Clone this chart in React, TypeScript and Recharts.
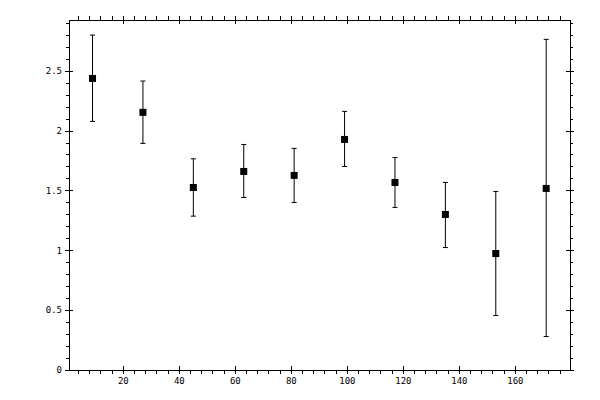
import React from "react";
import { ScatterChart, Scatter, XAxis, YAxis, ErrorBar } from "recharts";

const xCenters = [9, 27, 45, 63, 81, 99, 117, 135, 153, 171];
const values = [2.441, 2.157, 1.528, 1.662, 1.629, 1.93, 1.57, 1.302, 0.975, 1.52];
const lows = [2.081, 1.897, 1.288, 1.444, 1.402, 1.704, 1.361, 1.025, 0.456, 0.28];
const highs = [2.804, 2.419, 1.768, 1.888, 1.855, 2.165, 1.779, 1.57, 1.495, 2.768];

const xMajorTicks = [20, 40, 60, 80, 100, 120, 140, 160];
const yMajorTicks = [0, 0.5, 1, 1.5, 2, 2.5];

const xDomain = [0.6, 179.5];
const yDomain = [0, 2.93];

const xTicks: number[] = [];
for (let i = 4; i <= 176; i += 4) xTicks.push(i);
const yTicks: number[] = [];
for (let i = 0; i <= 29; i++) yTicks.push(i / 10);

const data = xCenters.map((x, i) => ({
  x,
  y: values[i],
  err: [values[i] - lows[i], highs[i] - values[i]],
}));

const FONT = "'DejaVu Sans Mono', monospace";
const isMajorX = (v: number) => xMajorTicks.includes(v);
const isMajorY = (v: number) => yMajorTicks.some((t) => Math.abs(t - v) < 1e-6);

const BottomTick = (p: any) => {
  const { x, y, payload } = p;
  const v = payload.value;
  const major = isMajorX(v);
  return (
    <g>
      <line x1={x} x2={x} y1={major ? y - 4 : y} y2={y + 4} stroke="#000" shapeRendering="crispEdges" />
      {major && (
        <text x={x} y={y + 14} textAnchor="middle" fontFamily={FONT} fontSize={9} fill="#000">
          {v}
        </text>
      )}
    </g>
  );
};

const TopTick = (p: any) => {
  const { x, y, payload } = p;
  const major = isMajorX(payload.value);
  return (
    <g>
      <line x1={x} x2={x} y1={y - 4} y2={major ? y + 4 : y} stroke="#000" shapeRendering="crispEdges" />
    </g>
  );
};

const LeftTick = (p: any) => {
  const { x, y, payload } = p;
  const v = payload.value;
  const major = isMajorY(v);
  return (
    <g>
      <line x1={major ? x - 4 : x - 3} x2={major ? x + 4 : x} y1={y} y2={y} stroke="#000" shapeRendering="crispEdges" />
      {major && (
        <text x={x - 7} y={y + 3} textAnchor="end" fontFamily={FONT} fontSize={9} fill="#000">
          {String(v)}
        </text>
      )}
    </g>
  );
};

const RightTick = (p: any) => {
  const { x, y, payload } = p;
  const major = isMajorY(payload.value);
  return (
    <g>
      <line x1={major ? x - 4 : x} x2={major ? x + 4 : x + 3} y1={y} y2={y} stroke="#000" shapeRendering="crispEdges" />
    </g>
  );
};

const Square = (p: any) => {
  const { cx, cy } = p;
  if (cx == null || cy == null) return <g />;
  return <rect x={cx - 3.5} y={cy - 3.5} width={7} height={7} fill="#000" />;
};

const Empty = () => <g />;

export default function App() {
  return (
    <div style={{ position: "absolute", left: 0, top: 0, width: 600, height: 400, background: "#fff" }}>
      <ScatterChart width={600} height={400} margin={{ top: 0, right: 0, bottom: 0, left: 0 }}>
        <XAxis
          xAxisId="bottom"
          type="number"
          dataKey="x"
          orientation="bottom"
          height={30}
          domain={xDomain}
          allowDataOverflow
          ticks={xTicks}
          interval={0}
          tickSize={0}
          tickMargin={0}
          tickLine={false}
          tick={BottomTick}
          axisLine={{ stroke: "#000", shapeRendering: "crispEdges" }}
        />
        <XAxis
          xAxisId="top"
          type="number"
          dataKey="x"
          orientation="top"
          height={20}
          domain={xDomain}
          allowDataOverflow
          ticks={xTicks}
          interval={0}
          tickSize={0}
          tickMargin={0}
          tickLine={false}
          tick={TopTick}
          axisLine={{ stroke: "#000", shapeRendering: "crispEdges" }}
        />
        <YAxis
          yAxisId="left"
          type="number"
          dataKey="y"
          orientation="left"
          width={69}
          domain={yDomain}
          allowDataOverflow
          ticks={yTicks}
          interval={0}
          tickSize={0}
          tickMargin={0}
          tickLine={false}
          tick={LeftTick}
          axisLine={{ stroke: "#000", shapeRendering: "crispEdges" }}
        />
        <YAxis
          yAxisId="right"
          type="number"
          dataKey="y"
          orientation="right"
          width={30}
          domain={yDomain}
          allowDataOverflow
          ticks={yTicks}
          interval={0}
          tickSize={0}
          tickMargin={0}
          tickLine={false}
          tick={RightTick}
          axisLine={{ stroke: "#000", shapeRendering: "crispEdges" }}
        />
        <Scatter
          data={data}
          xAxisId="top"
          yAxisId="right"
          dataKey="y"
          shape={Empty}
          isAnimationActive={false}
          legendType="none"
        />
        <Scatter
          data={data}
          xAxisId="bottom"
          yAxisId="left"
          dataKey="y"
          shape={Square}
          isAnimationActive={false}
        >
          <ErrorBar dataKey="err" direction="y" width={2.5} stroke="#000" strokeWidth={1} isAnimationActive={false} />
        </Scatter>
      </ScatterChart>
    </div>
  );
}
